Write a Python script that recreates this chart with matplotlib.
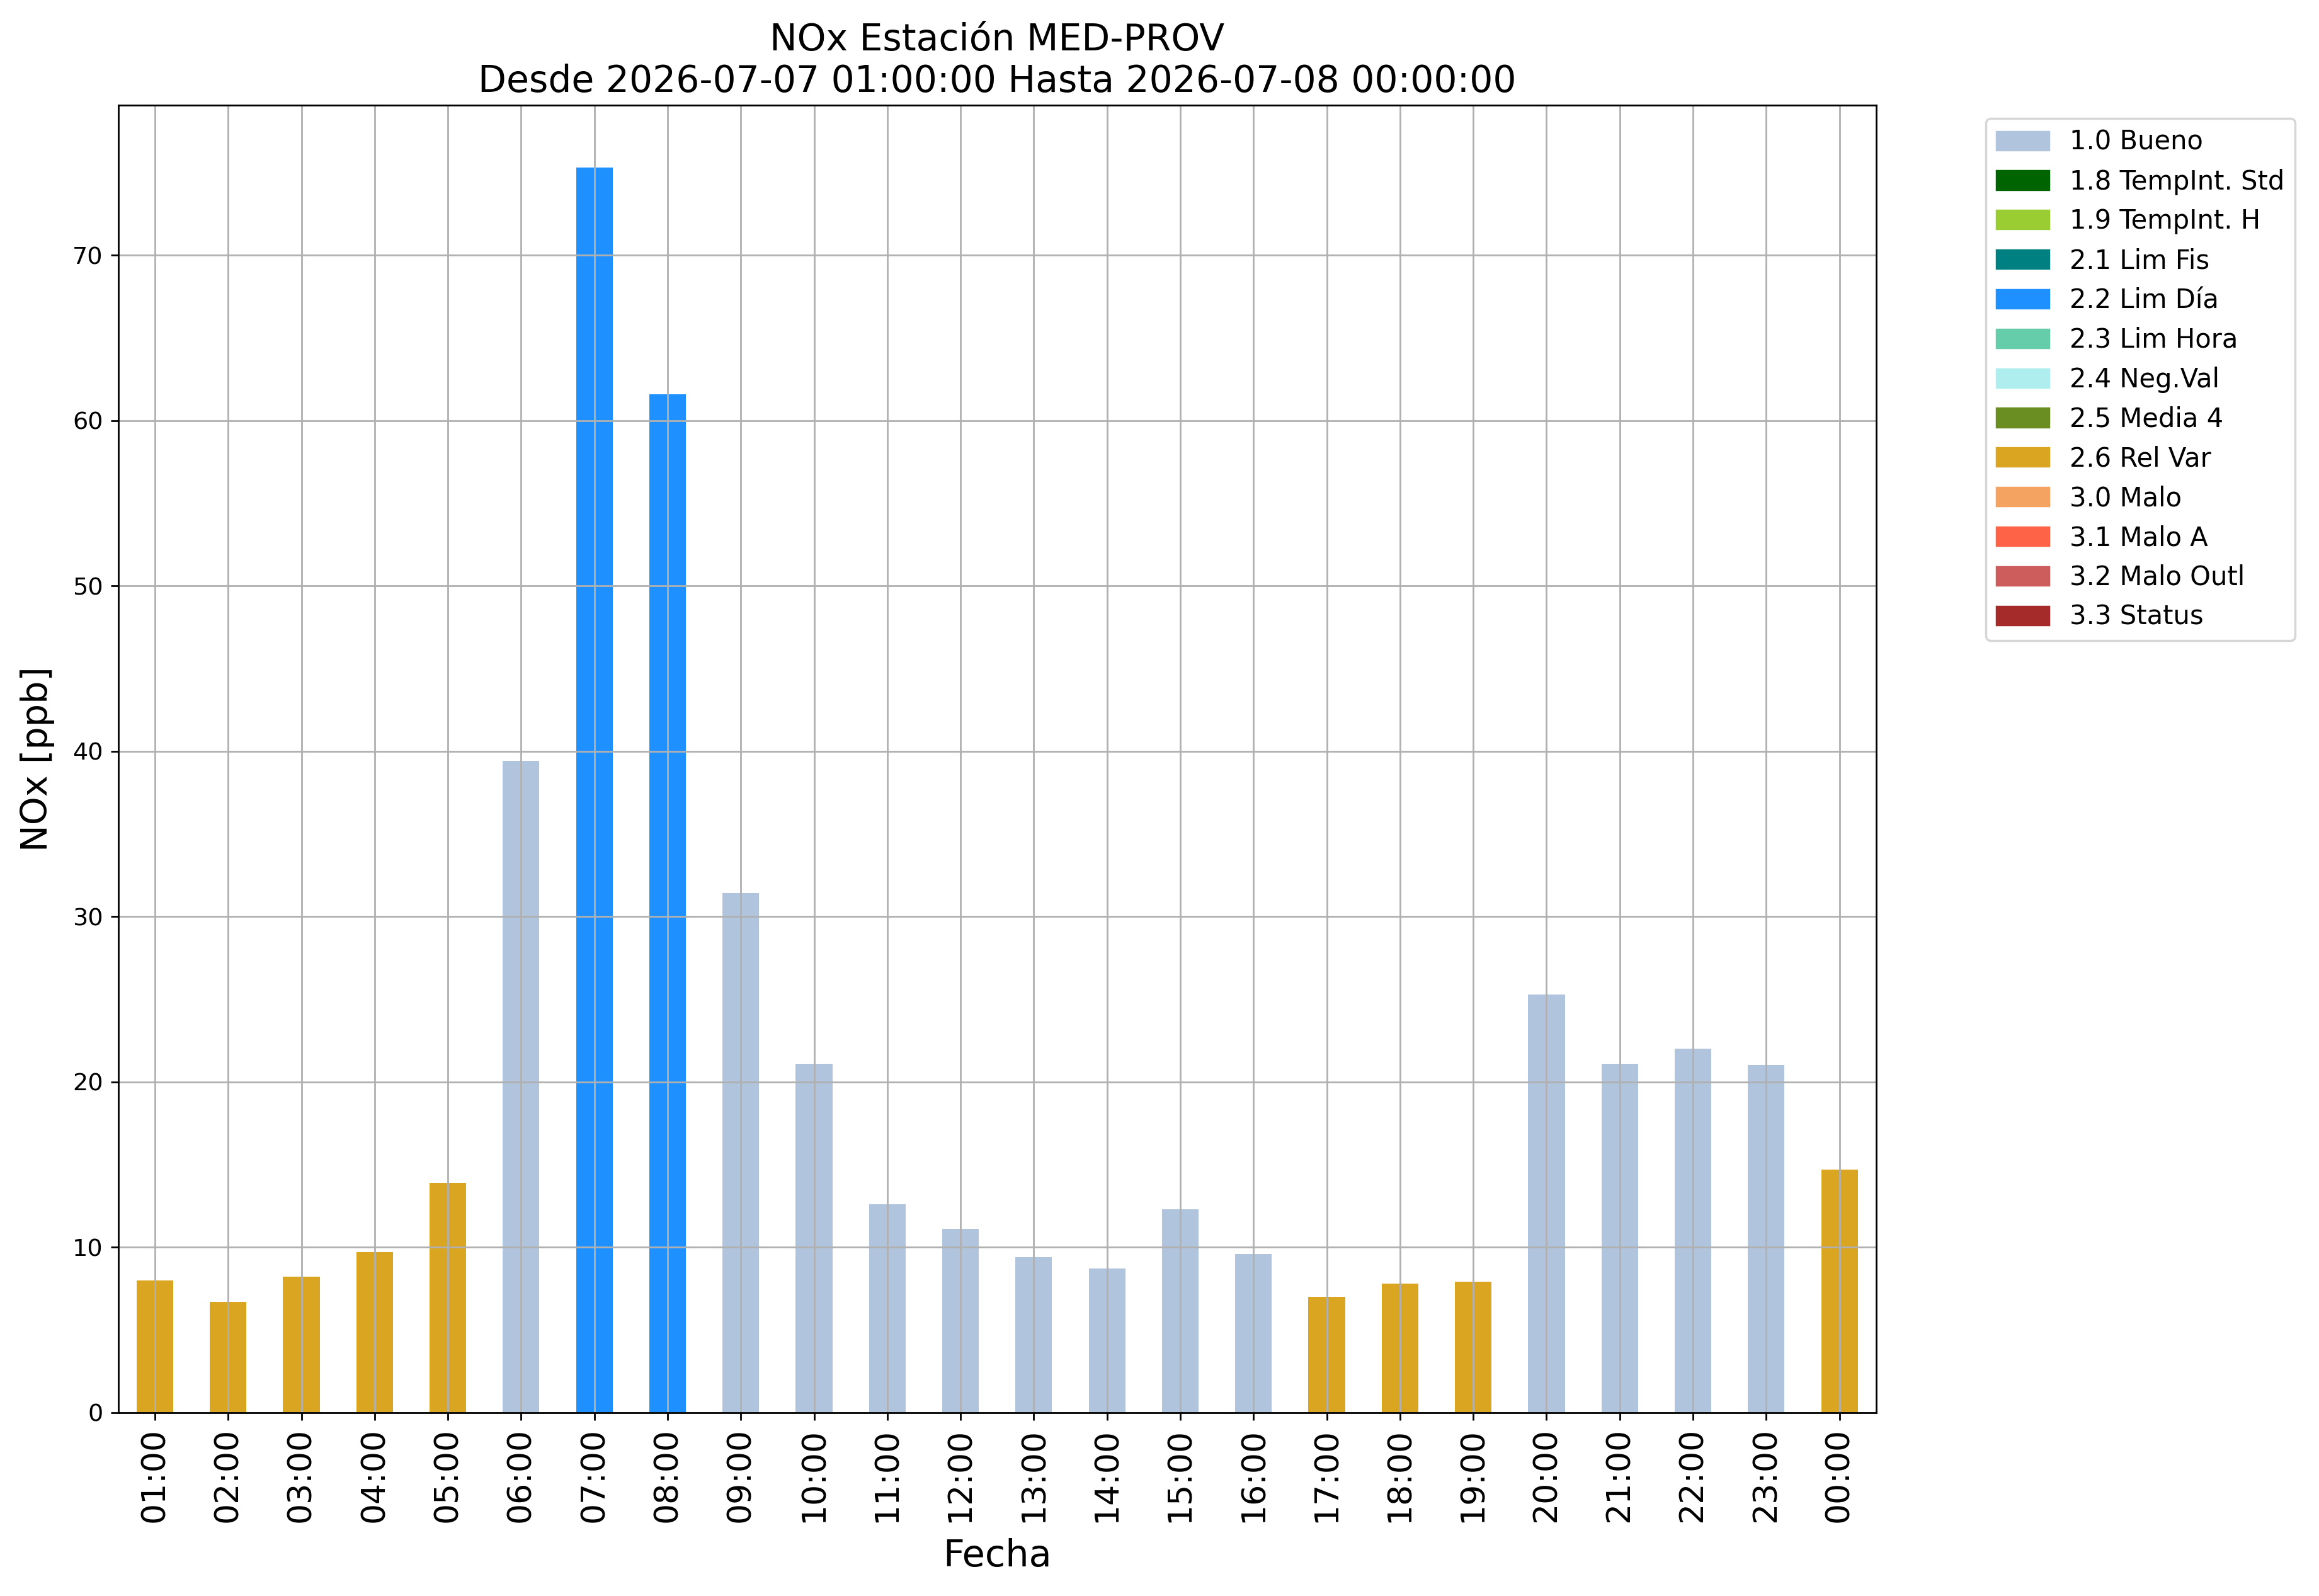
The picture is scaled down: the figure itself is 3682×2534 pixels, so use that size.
import matplotlib
matplotlib.use("Agg")
import matplotlib.pyplot as plt
from matplotlib.patches import Patch

# hourly NOx values and their quality flag
horas = ["01:00", "02:00", "03:00", "04:00", "05:00", "06:00", "07:00", "08:00",
         "09:00", "10:00", "11:00", "12:00", "13:00", "14:00", "15:00", "16:00",
         "17:00", "18:00", "19:00", "20:00", "21:00", "22:00", "23:00", "00:00"]
nox = [8.0, 6.7, 8.2, 9.7, 13.9, 39.4, 75.3, 61.6, 31.4, 21.1, 12.6, 11.1,
       9.4, 8.7, 12.3, 9.6, 7.0, 7.8, 7.9, 25.3, 21.1, 22.0, 21.0, 14.7]
flags = ["2.6", "2.6", "2.6", "2.6", "2.6", "1.0", "2.2", "2.2", "1.0", "1.0", "1.0", "1.0",
         "1.0", "1.0", "1.0", "1.0", "2.6", "2.6", "2.6", "1.0", "1.0", "1.0", "1.0", "2.6"]

# legend categories
cat_codes = ["1.0", "1.8", "1.9", "2.1", "2.2", "2.3", "2.4", "2.5", "2.6", "3.0", "3.1", "3.2", "3.3"]
cat_names = ["Bueno", "TempInt. Std", "TempInt. H", "Lim Fis", "Lim Día", "Lim Hora",
             "Neg.Val", "Media 4", "Rel Var", "Malo", "Malo A", "Malo Outl", "Status"]
cat_colors = ["lightsteelblue", "darkgreen", "yellowgreen", "teal", "dodgerblue",
              "mediumaquamarine", "paleturquoise", "olivedrab", "goldenrod",
              "sandybrown", "tomato", "indianred", "brown"]
color_of = dict(zip(cat_codes, cat_colors))

fig = plt.figure(figsize=(14.728, 10.136), dpi=250)
ax = fig.add_axes([0.051, 0.115, 0.758, 0.819])

x = list(range(len(horas)))
ax.bar(x, nox, width=0.5, color=[color_of[f] for f in flags])
ax.set_xlim(-0.5, len(horas) - 0.5)
ax.set_xticks(x)
ax.set_xticklabels(horas, rotation=90, fontsize=15)
ax.set_yticks(range(0, 80, 10))
ax.tick_params(axis="y", labelsize=11)
ax.grid(True)

ax.set_xlabel("Fecha", fontsize=17, labelpad=7)
ax.set_ylabel("NOx [ppb]", fontsize=16.5, labelpad=8)
ax.set_title("NOx Estación MED-PROV\nDesde 2026-07-07 01:00:00 Hasta 2026-07-08 00:00:00", fontsize=16.8)

handles = [Patch(color=c, label=f"{k} {n}") for k, n, c in zip(cat_codes, cat_names, cat_colors)]
ax.legend(handles=handles, loc="upper left", bbox_to_anchor=(1.055, 1.0), fontsize=12)

fig.savefig("out.png", dpi=250)
